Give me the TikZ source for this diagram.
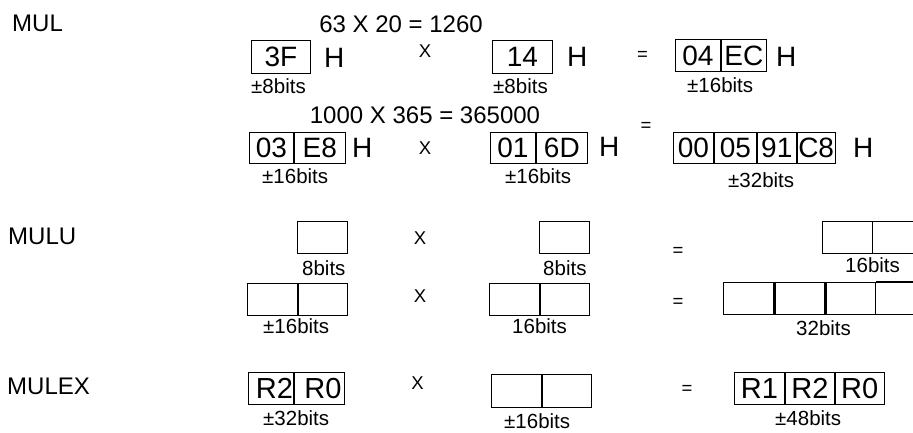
\documentclass[tikz,border=0pt]{standalone}
\usepackage{fontspec}
\setmainfont{Liberation Sans}
\tikzset{
  cell/.style={draw, line width=0.9pt, anchor=north west, inner sep=0pt, minimum height=32pt, font=\fontsize{28}{28}\selectfont},
  opencell/.style={anchor=north west, inner sep=0pt, minimum height=32pt},
  lbl/.style={anchor=base west, inner sep=0pt, font=\fontsize{24}{24}\selectfont},
  hd/.style={anchor=base, inner sep=0pt, font=\fontsize{24}{24}\selectfont},
  bigh/.style={anchor=base west, inner sep=0pt, font=\fontsize{28}{28}\selectfont},
  sm/.style={anchor=base west, inner sep=0pt, font=\fontsize{20.5}{20.5}\selectfont},
  op/.style={anchor=center, inner sep=0pt, font=\fontsize{18.5}{18.5}\selectfont},
}
\begin{document}
\begin{tikzpicture}[x=1pt,y=-1pt]
\useasboundingbox (0,0) rectangle (913,432);
% ---------- MUL ----------
\node[lbl] (mul) at (12,31) {MUL};
\node[hd] (eq1) at (401,32) {63 X 20 = 1260};
\node[cell, minimum width=59pt, minimum height=33pt] (a1) at (251,40) {3F\hspace{10pt}};
\node[bigh] (a1h) at (324,67) {H};
\node[sm] (a1l) at (251,93) {±8bits};
\node[op] (x1) at (425,51.5) {X};
\node[cell, minimum width=60pt, minimum height=33pt] (a2) at (492,40) {14};
\node[bigh] (a2h) at (567,66) {H};
\node[sm] (a2l) at (493,93) {±8bits};
\node[op] (q1) at (642.5,56) {=};
\node[cell, minimum width=45pt] (a3) at (675,39) {04};
\node[cell, minimum width=45pt] (a4) at (a3.north east) {EC};
\node[bigh] (a4h) at (776,66) {H};
\node[sm] (a4l) at (687,92) {±16bits};
% second example
\node[hd] (eq2) at (425,123) {1000 X 365 = 365000};
\node[cell, minimum width=44pt, minimum height=31pt] (b1) at (249,132) {03};
\node[cell, minimum width=51pt, minimum height=31pt] (b2) at (b1.north east) {E8};
\node[bigh] (b2h) at (352,157) {H};
\node[sm] (b2l) at (262,183) {±16bits};
\node[op] (x2) at (425,148.5) {X};
\node[cell, minimum width=45pt, minimum height=31pt] (b3) at (490,132) {01};
\node[cell, minimum width=51pt, minimum height=31pt] (b4) at (b3.north east) {6D};
\node[bigh] (b4h) at (599,156) {H};
\node[sm] (b4l) at (505,183) {±16bits};
\node[op] (q2) at (646,127) {=};
\node[cell, minimum width=40pt, minimum height=31pt] (b5) at (673,132) {00};
\node[cell, minimum width=42pt, minimum height=31pt] (b6) at (b5.north east) {05};
\node[cell, minimum width=39pt, minimum height=31pt] (b7) at (b6.north east) {91};
\node[cell, minimum width=38pt, minimum height=31pt] (b8) at (b7.north east) {C8};
\node[bigh] (b8h) at (853,157) {H};
\node[sm] (b8l) at (728,187) {±32bits};
% ---------- MULU ----------
\node[lbl] (mulu) at (8,244) {MULU};
\node[cell, minimum width=50pt] (c1) at (297,221) {};
\node[sm] (c1l) at (302,275) {8bits};
\node[op] (x3) at (420,238.5) {X};
\node[cell, minimum width=50pt] (c2) at (539,221) {};
\node[sm] (c2l) at (543,275) {8bits};
\node[op] (q3) at (678,251.5) {=};
\node[cell, minimum width=50pt] (c3) at (822,221) {};
\node[opencell, minimum width=41pt] (c4) at (c3.north east) {};
\draw[line width=0.9pt] (c4.north east) -- (c4.north west) (c4.south west) -- (c4.south east);
\node[sm] (c3l) at (845,272) {16bits};
% second row
\node[cell, minimum width=50pt] (d1) at (247,283) {};
\node[cell, minimum width=49pt] (d2) at (d1.north east) {};
\node[sm] (d1l) at (263,333) {±16bits};
\node[op] (x4) at (420,296.5) {X};
\node[cell, minimum width=50pt] (d3) at (489,283) {};
\node[cell, minimum width=49pt] (d4) at (d3.north east) {};
\node[sm] (d3l) at (512,333) {16bits};
\node[op] (q4) at (678,303) {=};
\node[cell, line width=1.4pt, minimum width=50pt] (d5) at (723,282) {};
\node[cell, line width=1.4pt, minimum width=50pt] (d6) at (d5.north east) {};
\node[cell, line width=1.4pt, minimum width=49pt] (d7) at (d6.north east) {};
\node[opencell, minimum width=41pt] (d8) at (d7.north east) {};
\draw[line width=1.4pt] (d8.north east) -- (d8.north west) (d8.south west) -- (d8.south east);
\node[sm] (d5l) at (796,335) {32bits};
% ---------- MULEX ----------
\node[lbl] (mulex) at (7,394) {MULEX};
\node[cell, minimum width=45pt, font=\fontsize{29}{29}\selectfont] (e1) at (248,372) {\hspace{7pt}R2};
\node[cell, minimum width=50pt, font=\fontsize{29}{29}\selectfont] (e2) at (e1.north east) {\hspace{7pt}R0};
\node[sm] (e1l) at (263,425) {±32bits};
\node[op] (x5) at (417.5,383.5) {X};
\node[cell, minimum width=50pt, minimum height=33pt] (e3) at (491,374) {};
\node[cell, minimum width=49pt, minimum height=33pt] (e4) at (e3.north east) {};
\node[sm] (e3l) at (504,428.5) {±16bits};
\node[op] (q5) at (687,390) {=};
\node[cell, minimum width=50pt, font=\fontsize{29}{29}\selectfont] (e5) at (734,372) {R1};
\node[cell, minimum width=49pt, font=\fontsize{29}{29}\selectfont] (e6) at (e5.north east) {R2};
\node[cell, minimum width=49pt, font=\fontsize{29}{29}\selectfont] (e7) at (e6.north east) {R0};
\node[sm] (e5l) at (775,425) {±48bits};
\end{tikzpicture}
\end{document}
